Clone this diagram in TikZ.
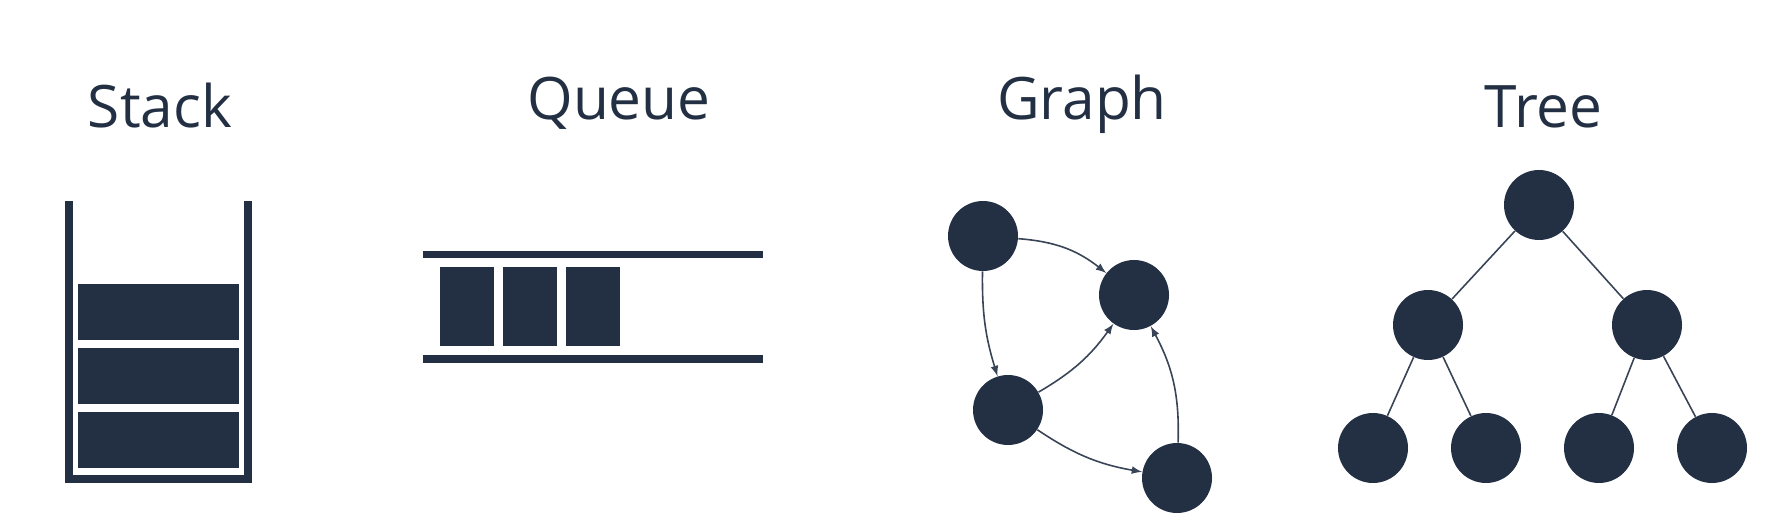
\documentclass[tikz,border=0pt]{standalone}
\usepackage{fontspec}
\setmainfont{Open Sans}
\usepackage{tikz}

\definecolor{dsnavy}{HTML}{233044}

\begin{document}
\begin{tikzpicture}[>=latex,line join=miter,
  title/.style={anchor=base,inner sep=0pt,text=dsnavy,font=\fontsize{29.4}{35}\selectfont},
  vertex/.style={circle,fill=dsnavy,draw=none,inner sep=0pt,minimum size=35bp},
  slot/.style={rectangle,fill=dsnavy,draw=none,inner sep=0pt},
  link/.style={draw=dsnavy!90,line width=0.8bp},
  wall/.style={draw=dsnavy,line width=4bp}]
\useasboundingbox (0bp,0bp) rectangle (892bp,265bp);
%% titles
\node (title_stack) at (80bp,201bp) [title] {Stack};
  \node (title_queue) at (309.5bp,205bp) [title] {Queue};
  \node (title_graph) at (541bp,205bp) [title] {Graph};
  \node (title_tree) at (771.75bp,201bp) [title] {Tree};
%% stack
\draw [wall] (34.5bp,164.5bp) -- (34.5bp,25.5bp) -- (124bp,25.5bp) -- (124bp,164.5bp);
  \node (stack_0) at (79.25bp,45bp) [slot,minimum width=80.5bp,minimum height=28bp] {};
  \node (stack_1) at (79.25bp,77bp) [slot,minimum width=80.5bp,minimum height=28bp] {};
  \node (stack_2) at (79.25bp,109bp) [slot,minimum width=80.5bp,minimum height=28bp] {};
%% queue
\draw [wall,line width=3.75bp] (211.5bp,137.75bp) -- (381.5bp,137.75bp);
  \draw [wall,line width=3.75bp] (211.5bp,85.5bp) -- (381.5bp,85.5bp);
  \node (queue_0) at (233.5bp,111.75bp) [slot,minimum width=27bp,minimum height=39.5bp] {};
  \node (queue_1) at (265bp,111.75bp) [slot,minimum width=27bp,minimum height=39.5bp] {};
  \node (queue_2) at (296.5bp,111.75bp) [slot,minimum width=27bp,minimum height=39.5bp] {};
%% graph
\node (graph_a) at (491.5bp,147bp) [vertex] {};
  \node (graph_b) at (567bp,117.5bp) [vertex] {};
  \node (graph_c) at (504bp,60bp) [vertex] {};
  \node (graph_d) at (588.5bp,26bp) [vertex] {};
  \draw [link,->] (graph_a) to[bend left=17] (graph_b);
  \draw [link,->] (graph_a) to[bend right=9] (graph_c);
  \draw [link,->] (graph_c) to[bend right=12] (graph_b);
  \draw [link,->] (graph_c) to[bend right=12] (graph_d);
  \draw [link,->] (graph_d) to[bend right=15] (graph_b);
%% tree
\node (tree_0) at (769.5bp,162.5bp) [vertex] {};
  \node (tree_1) at (714bp,102.5bp) [vertex] {};
  \node (tree_2) at (823.5bp,102.5bp) [vertex] {};
  \node (tree_3) at (686.5bp,41bp) [vertex] {};
  \node (tree_4) at (743bp,41bp) [vertex] {};
  \node (tree_5) at (799.5bp,41bp) [vertex] {};
  \node (tree_6) at (856bp,41bp) [vertex] {};
  \draw [link] (tree_0) -- (tree_1);
  \draw [link] (tree_0) -- (tree_2);
  \draw [link] (tree_1) -- (tree_3);
  \draw [link] (tree_1) -- (tree_4);
  \draw [link] (tree_2) -- (tree_5);
  \draw [link] (tree_2) -- (tree_6);
%
\end{tikzpicture}
\end{document}
